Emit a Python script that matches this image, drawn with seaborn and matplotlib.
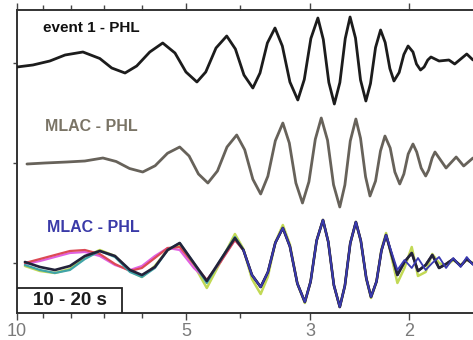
import numpy as np
import pandas as pd
import matplotlib
matplotlib.use("Agg")
import matplotlib.pyplot as plt
import matplotlib.ticker as mticker
from matplotlib.patches import Rectangle
import seaborn as sns

# period axis ticks
tick_periods = [10, 5, 3, 2]
tick_labels = ["10", "5", "3", "2"]
minor_periods = [9, 8, 7, 6, 4]

# event 1 - PHL (top trace)
event_period = [10.00, 9.37, 8.74, 8.21, 7.63, 7.12, 6.78, 6.42, 6.12, 5.80, 5.50, 5.23,
                5.00, 4.78, 4.61, 4.42,
                4.23, 4.082, 3.941, 3.80, 3.690, 3.580, 3.47, 3.367, 3.264, 3.16, 3.077,
                2.995, 2.91, 2.846, 2.782, 2.72, 2.659, 2.601, 2.55, 2.494, 2.443, 2.39,
                2.345, 2.297, 2.25, 2.208, 2.166, 2.13, 2.085, 2.045, 2.01, 1.97, 1.942,
                1.91, 1.882, 1.854, 1.83, 1.77, 1.70, 1.66, 1.58, 1.54]
event_amp = [-0.08, -0.04, 0.04, 0.16, 0.22, 0.09, -0.10, -0.20, -0.06, 0.22, 0.40, 0.20,
             -0.18, -0.38, -0.18, 0.30,
             0.54, 0.28, -0.24, -0.50, -0.20, 0.40, 0.70, 0.34, -0.38, -0.74, -0.33,
             0.49, 0.90, 0.47, -0.39, -0.82, -0.39, 0.49, 0.92, 0.50, -0.34, -0.76,
             -0.41, 0.31, 0.66, 0.41, -0.11, -0.36, -0.19, 0.17, 0.34, 0.22, -0.02,
             -0.14, -0.08, 0.06, 0.12, 0.04, 0.06, -0.02, 0.18, 0.06]

# MLAC - PHL (middle trace)
mlac_period = [9.60, 8.92, 8.15, 7.57, 7.03, 6.657, 6.302, 5.97, 5.674, 5.393, 5.13, 4.936,
               4.750, 4.57, 4.394, 4.225, 4.06, 3.929, 3.80, 3.68, 3.573, 3.465, 3.36,
               3.272, 3.185, 3.10, 3.019, 2.941, 2.87, 2.797, 2.729, 2.66, 2.605, 2.548,
               2.49, 2.443, 2.393, 2.35, 2.297, 2.251, 2.21, 2.163, 2.122, 2.08, 2.045,
               2.009, 1.97, 1.940, 1.905, 1.87, 1.847, 1.821, 1.80, 1.72, 1.65, 1.60, 1.54]
mlac_amp = [-0.02, 0.00, 0.02, 0.04, 0.10, 0.03, -0.11, -0.18, -0.055, 0.195, 0.32, 0.14,
            -0.22, -0.40, -0.16, 0.32, 0.56, 0.265, -0.325, -0.62, -0.265, 0.445, 0.80,
            0.40, -0.40, -0.80, -0.375, 0.475, 0.90, 0.455, -0.435, -0.88, -0.44, 0.44,
            0.88, 0.495, -0.275, -0.66, -0.36, 0.24, 0.54, 0.30, -0.18, -0.42, -0.22,
            0.18, 0.38, 0.22, -0.10, -0.26, -0.14, 0.10, 0.22, -0.10, 0.12, -0.06, 0.10]

# MLAC - PHL, 10-20 s (bottom, several curves)
left_period = [9.68, 9.10, 8.56, 8.05, 7.57, 7.12, 6.69, 6.29, 5.99, 5.68, 5.39, 5.13,
               4.84, 4.59, 4.34, 4.09]
mid_period = [3.950, 3.814, 3.68, 3.573, 3.465, 3.36, 3.264, 3.166, 3.07, 2.998, 2.925,
              2.85, 2.789, 2.725, 2.66, 2.605, 2.548, 2.49, 2.440, 2.386, 2.34, 2.288,
              2.242, 2.20]
right_period = [2.10, 2.04, 1.98, 1.93, 1.87, 1.82, 1.77, 1.72, 1.67, 1.62, 1.58, 1.54]

left_black = [0.02, -0.08, -0.14, -0.06, 0.14, 0.24, 0.14, -0.14, -0.24, -0.08, 0.26, 0.40,
              0.00, -0.36, 0.06, 0.50]
left_teal = [-0.04, -0.14, -0.20, -0.14, 0.08, 0.24, 0.12, -0.18, -0.28, -0.10, 0.26, 0.40,
             0.00, -0.40, 0.06, 0.52]
left_red = [0.00, 0.08, 0.16, 0.24, 0.26, 0.18, -0.02, -0.16, -0.10, 0.10, 0.30, 0.32,
            -0.02, -0.34, 0.02, 0.46]
left_magenta = [-0.02, 0.04, 0.12, 0.20, 0.22, 0.14, -0.04, -0.14, -0.06, 0.14, 0.30, 0.26,
                -0.10, -0.34, 0.02, 0.46]
left_green = [-0.06, -0.16, -0.20, -0.12, 0.12, 0.26, 0.14, -0.16, -0.28, -0.06, 0.26, 0.36,
              -0.04, -0.50, 0.02, 0.58]

mid_common = [0.26, -0.24, -0.48, -0.185, 0.405, 0.70, 0.33, -0.41, -0.78, -0.37, 0.45,
              0.86, 0.425, -0.445, -0.88, -0.455, 0.395, 0.82, 0.445, -0.305, -0.68,
              -0.37, 0.25, 0.56]
mid_green = [0.28, -0.32, -0.62, -0.275, 0.415, 0.76, 0.37, -0.41, -0.80, -0.37, 0.45,
             0.86, 0.425, -0.445, -0.88, -0.455, 0.395, 0.82, 0.44, -0.32, -0.70,
             -0.375, 0.275, 0.60]

right_black = [-0.24, 0.02, 0.20, -0.16, -0.04, 0.16, -0.10, -0.02, 0.08, -0.06, 0.08, -0.02]
right_blue = [-0.14, 0.06, -0.10, 0.10, -0.14, 0.00, 0.12, -0.10, 0.10, -0.08, 0.12, -0.04]
right_green = [-0.40, -0.10, 0.32, -0.26, -0.18, 0.18, 0.00, -0.06, 0.06, -0.04, 0.06, 0.00]

offsets = [0, -2, -4]

sns.set_style("ticks")
plt.rcParams['font.family'] = ['Liberation Sans', 'DejaVu Sans']

fig = plt.figure(figsize=(4.73, 3.40), dpi=100)
ax = fig.add_axes([17 / 473, 27 / 340, 456 / 473, 303 / 340])


def draw(period, amp, offset, color, lw, z):
    df = pd.DataFrame({'period': period, 'amp': np.array(amp) + offset})
    sns.lineplot(data=df, x='period', y='amp', color=color, lw=lw, sort=False,
                 estimator=None, ax=ax, zorder=z)


draw(event_period, event_amp, offsets[0], '#1c1c1c', 2.0, 5)
draw(mlac_period, mlac_amp, offsets[1], '#67625a', 2.0, 5)

bottom_period = left_period + mid_period + right_period
draw(bottom_period, left_green + mid_green + right_green, offsets[2], '#c2d955', 1.8, 3)
draw(bottom_period, left_magenta + mid_common + right_black, offsets[2], '#e060e0', 1.6, 3)
draw(bottom_period, left_red + mid_common + right_black, offsets[2], '#dc4a55', 1.6, 3)
draw(bottom_period, left_teal + mid_common + right_black, offsets[2], '#40a4a8', 1.6, 3)
draw(bottom_period, left_black + mid_common + right_black, offsets[2], '#22223a', 1.9, 4)
draw(mid_period + right_period, mid_common + right_blue, offsets[2], '#3a3ab0', 1.3, 4)

ax.set_xscale('log')
ax.set_xlim(10, 1.54)
ax.set_ylim(-5.0, 1.06)
ax.set_xlabel('')
ax.set_ylabel('')

ax.xaxis.set_major_locator(mticker.FixedLocator(tick_periods))
ax.xaxis.set_major_formatter(mticker.FixedFormatter(tick_labels))
ax.xaxis.set_minor_locator(mticker.FixedLocator(minor_periods))
ax.xaxis.set_minor_formatter(mticker.NullFormatter())
ax.tick_params(axis='x', which='both', top=True, direction='out', color='#444444', width=1)
ax.tick_params(axis='x', which='major', length=5, labelsize=13, labelcolor='#7a7a7a', pad=2)
ax.tick_params(axis='x', which='minor', length=3.5)

ax.set_yticks(offsets)
ax.set_yticklabels([])
ax.tick_params(axis='y', length=3, color='#444444', width=1)

for side in ['left', 'top', 'bottom']:
    ax.spines[side].set_color('#333333')
    ax.spines[side].set_linewidth(1.4)
ax.spines['right'].set_visible(False)

ax.text(0.057, 0.941, 'event 1 - PHL', transform=ax.transAxes, fontsize=11,
        fontweight='bold', color='#111111', ha='left', va='center')
ax.text(0.061, 0.614, 'MLAC - PHL', transform=ax.transAxes, fontsize=11.5,
        fontweight='bold', color='#7a7466', ha='left', va='center')
ax.text(0.066, 0.281, 'MLAC - PHL', transform=ax.transAxes, fontsize=11.5,
        fontweight='bold', color='#3a3aa8', ha='left', va='center')

ax.add_patch(Rectangle((0, 0), 0.230, 0.083, transform=ax.transAxes, facecolor='white',
                       edgecolor='#222222', lw=1.3, zorder=6))
ax.text(0.115, 0.040, '10 - 20 s', transform=ax.transAxes, fontsize=13.5,
        fontweight='bold', color='#1a1a1a', ha='center', va='center', zorder=7)

fig.savefig('out.png', dpi=100)
